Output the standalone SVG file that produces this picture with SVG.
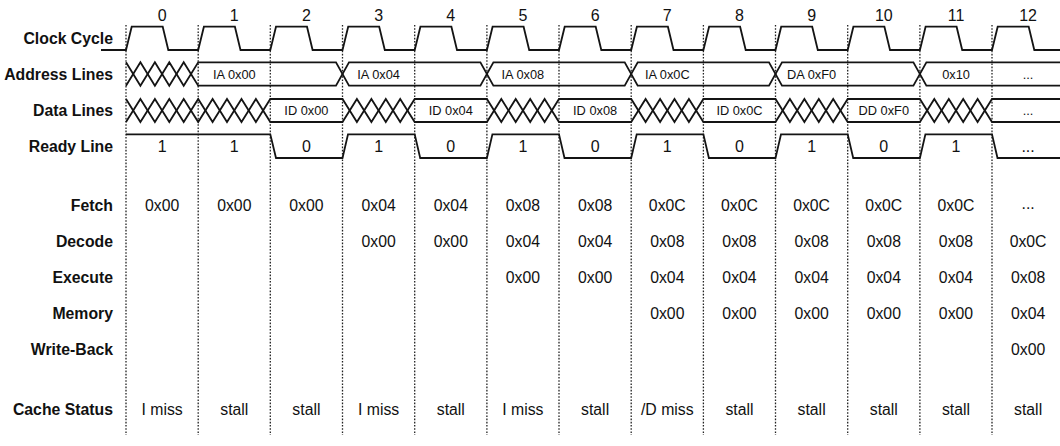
<svg xmlns="http://www.w3.org/2000/svg" width="1060" height="446" viewBox="0 0 1060 446">
<style>
.bg{fill:#ffffff}
.w{fill:none;stroke:#141414;stroke-width:1.8;stroke-linejoin:miter}
.grid{stroke:#222;stroke-width:1.3;stroke-dasharray:1.6 1.6}
.lbl{font-family:"Liberation Sans",Arial,Helvetica,sans-serif;font-weight:bold;font-size:15.8px;fill:#111;text-anchor:end}
.num{font-family:"Liberation Sans",Arial,Helvetica,sans-serif;font-size:16px;fill:#111;text-anchor:middle}
.bus{font-family:"Liberation Sans",Arial,Helvetica,sans-serif;font-size:12.8px;fill:#111;text-anchor:middle}
.val{font-family:"Liberation Sans",Arial,Helvetica,sans-serif;font-size:15.8px;fill:#111;text-anchor:middle}
</style>
<rect class="bg" x="0" y="0" width="1060" height="446"/>

<g id="grid">
<path class="grid" d="M126,25V435M198.2,25V435M270.3,25V435M342.5,25V435M414.7,25V435M486.9,25V435M559,25V435M631.2,25V435M703.4,25V435M775.5,25V435M847.7,25V435M919.9,25V435M992,25V435"/>
</g>

<g id="cycle-numbers" class="num">
<text x="162.1" y="20.5">0</text><text x="234.3" y="20.5">1</text><text x="306.4" y="20.5">2</text><text x="378.6" y="20.5">3</text><text x="450.8" y="20.5">4</text><text x="522.9" y="20.5">5</text><text x="595.1" y="20.5">6</text><text x="667.3" y="20.5">7</text><text x="739.5" y="20.5">8</text><text x="811.6" y="20.5">9</text><text x="883.8" y="20.5">10</text><text x="956" y="20.5">11</text><text x="1028.1" y="20.5">12</text>
</g>

<g id="clock">
<text class="lbl" x="113" y="43.5">Clock Cycle</text>
<path class="w" d="M101,50 H126 L131.7,26.7 H162.7 L168.3,50 H198.2 L203.9,26.7 H234.9 L240.5,50 H270.3 L276,26.7 H307 L312.6,50 H342.5 L348.2,26.7 H379.2 L384.8,50 H414.7 L420.4,26.7 H451.4 L457,50 H486.9 L492.6,26.7 H523.6 L529.2,50 H559 L564.7,26.7 H595.7 L601.3,50 H631.2 L636.9,26.7 H667.9 L673.5,50 H703.4 L709.1,26.7 H740.1 L745.7,50 H775.5 L781.2,26.7 H812.2 L817.8,50 H847.7 L853.4,26.7 H884.4 L890,50 H919.9 L925.6,26.7 H956.6 L962.2,50 H992 L997.7,26.7 H1028.7 L1034.3,50 H1060"/>
</g>

<g id="address-lines">
<text class="lbl" x="113" y="80">Address Lines</text>
<path class="w" d="M126,62.3 L140.4,85.7 L154.9,62.3 L169.3,85.7 L183.7,62.3 L198.2,85.7 H336 L349,62.3 H480.4 L493.4,85.7 H624.7 L637.7,62.3 H769 L782,85.7 H913.4 L926.4,62.3 H1060"/>
<path class="w" d="M126,85.7 L140.4,62.3 L154.9,85.7 L169.3,62.3 L183.7,85.7 L198.2,62.3 H336 L349,85.7 H480.4 L493.4,62.3 H624.7 L637.7,85.7 H769 L782,62.3 H913.4 L926.4,85.7 H1060"/>
<g class="bus">
<text x="234.3" y="78.8">IA 0x00</text><text x="378.6" y="78.8">IA 0x04</text><text x="522.9" y="78.8">IA 0x08</text><text x="667.3" y="78.8">IA 0x0C</text><text x="811.6" y="78.8">DA 0xF0</text><text x="956" y="78.8">0x10</text><text x="1028.1" y="78.8">...</text>
</g>
</g>

<g id="data-lines">
<text class="lbl" x="113" y="115.7">Data Lines</text>
<path class="w" d="M126,99 L140.4,122 L154.9,99 L169.3,122 L183.7,99 L198.2,122 L212.6,99 L227,122 L241.5,99 L255.9,122 L270.3,99 H342.5 L356.9,122 L371.4,99 L385.8,122 L400.2,99 L414.7,122 H486.9 L501.3,99 L515.7,122 L530.2,99 L544.6,122 L559,99 H631.2 L645.6,122 L660.1,99 L674.5,122 L688.9,99 L703.4,122 H775.5 L789.9,99 L804.4,122 L818.8,99 L833.2,122 L847.7,99 H919.9 L934.3,122 L948.8,99 L963.2,122 L977.6,99 L992,122 H1060"/>
<path class="w" d="M126,122 L140.4,99 L154.9,122 L169.3,99 L183.7,122 L198.2,99 L212.6,122 L227,99 L241.5,122 L255.9,99 L270.3,122 H342.5 L356.9,99 L371.4,122 L385.8,99 L400.2,122 L414.7,99 H486.9 L501.3,122 L515.7,99 L530.2,122 L544.6,99 L559,122 H631.2 L645.6,99 L660.1,122 L674.5,99 L688.9,122 L703.4,99 H775.5 L789.9,122 L804.4,99 L818.8,122 L833.2,99 L847.7,122 H919.9 L934.3,99 L948.8,122 L963.2,99 L977.6,122 L992,99 H1060"/>
<g class="bus">
<text x="306.4" y="114.8">ID 0x00</text><text x="450.8" y="114.8">ID 0x04</text><text x="595.1" y="114.8">ID 0x08</text><text x="739.5" y="114.8">ID 0x0C</text><text x="883.8" y="114.8">DD 0xF0</text><text x="1028.1" y="114.8">...</text>
</g>
</g>

<g id="ready-line">
<text class="lbl" x="113" y="151.7">Ready Line</text>
<path class="w" d="M126,134.3 H270.3 L276,158 H342.5 L348,134.3 H414.7 L420.2,158 H486.9 L492.4,134.3 H559 L564.5,158 H631.2 L636.7,134.3 H703.4 L708.9,158 H775.5 L781,134.3 H847.7 L853.2,158 H919.9 L925.4,134.3 H992 L997.5,158 H1060"/>
<g class="num">
<text x="162.1" y="151.7">1</text><text x="234.3" y="151.7">1</text><text x="306.4" y="151.7">0</text><text x="378.6" y="151.7">1</text><text x="450.8" y="151.7">0</text><text x="522.9" y="151.7">1</text><text x="595.1" y="151.7">0</text><text x="667.3" y="151.7">1</text><text x="739.5" y="151.7">0</text><text x="811.6" y="151.7">1</text><text x="883.8" y="151.7">0</text><text x="956" y="151.7">1</text><text x="1028.1" y="151.7">...</text>
</g>
</g>

<g id="fetch">
<text class="lbl" x="113" y="211">Fetch</text>
<g class="val">
<text x="162.1" y="211">0x00</text><text x="234.3" y="211">0x00</text><text x="306.4" y="211">0x00</text><text x="378.6" y="211">0x04</text><text x="450.8" y="211">0x04</text><text x="522.9" y="211">0x08</text><text x="595.1" y="211">0x08</text><text x="667.3" y="211">0x0C</text><text x="739.5" y="211">0x0C</text><text x="811.6" y="211">0x0C</text><text x="883.8" y="211">0x0C</text><text x="956" y="211">0x0C</text><text x="1028.1" y="209">...</text>
</g>
</g>

<g id="decode">
<text class="lbl" x="113" y="247">Decode</text>
<g class="val">
<text x="378.6" y="247">0x00</text><text x="450.8" y="247">0x00</text><text x="522.9" y="247">0x04</text><text x="595.1" y="247">0x04</text><text x="667.3" y="247">0x08</text><text x="739.5" y="247">0x08</text><text x="811.6" y="247">0x08</text><text x="883.8" y="247">0x08</text><text x="956" y="247">0x08</text><text x="1028.1" y="247">0x0C</text>
</g>
</g>

<g id="execute">
<text class="lbl" x="113" y="283">Execute</text>
<g class="val">
<text x="522.9" y="283">0x00</text><text x="595.1" y="283">0x00</text><text x="667.3" y="283">0x04</text><text x="739.5" y="283">0x04</text><text x="811.6" y="283">0x04</text><text x="883.8" y="283">0x04</text><text x="956" y="283">0x04</text><text x="1028.1" y="283">0x08</text>
</g>
</g>

<g id="memory">
<text class="lbl" x="113" y="319">Memory</text>
<g class="val">
<text x="667.3" y="319">0x00</text><text x="739.5" y="319">0x00</text><text x="811.6" y="319">0x00</text><text x="883.8" y="319">0x00</text><text x="956" y="319">0x00</text><text x="1028.1" y="319">0x04</text>
</g>
</g>

<g id="write-back">
<text class="lbl" x="113" y="355">Write-Back</text>
<g class="val">
<text x="1028.1" y="355">0x00</text>
</g>
</g>

<g id="cache-status">
<text class="lbl" x="113" y="415">Cache Status</text>
<g class="val">
<text x="162.1" y="415">I miss</text><text x="234.3" y="415">stall</text><text x="306.4" y="415">stall</text><text x="378.6" y="415">I miss</text><text x="450.8" y="415">stall</text><text x="522.9" y="415">I miss</text><text x="595.1" y="415">stall</text><text x="667.3" y="415">/D miss</text><text x="739.5" y="415">stall</text><text x="811.6" y="415">stall</text><text x="883.8" y="415">stall</text><text x="956" y="415">stall</text><text x="1028.1" y="415">stall</text>
</g>
</g>
</svg>
